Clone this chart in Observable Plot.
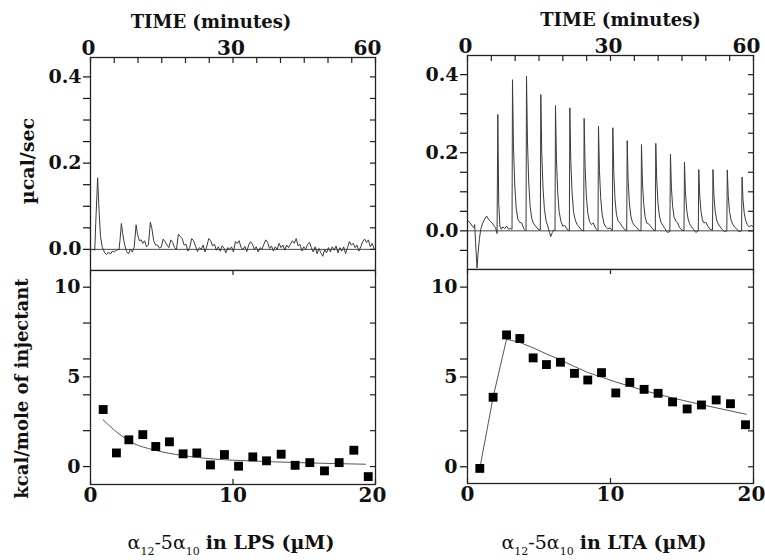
<!DOCTYPE html>
<html><head><meta charset="utf-8">
<script src="https://cdn.jsdelivr.net/npm/d3@7"></script>
<script src="https://cdn.jsdelivr.net/npm/@observablehq/plot@0.6"></script>
<style>
body{margin:0;background:#fff;}
#chart{position:relative;width:765px;height:560px;background:#fff;overflow:hidden;}
#chart svg{position:absolute;}
.xl{position:absolute;font-family:'DejaVu Serif';font-size:19px;line-height:22px;white-space:nowrap;transform:translateX(-50%);color:#111;}
.xl b{font-weight:bold;}
.xl sub{font-size:11px;vertical-align:-6px;line-height:0;}
</style></head><body><div id="chart"></div>
<script>
// ---- tick values / labels ----
const timeTicks = [0, 30, 60];
const timeMinor = [0,5,10,15,20,25,30,35,40,45,50,55,60];
const powerTicks = [0, 0.2, 0.4];
const powerMinorL = [0,0.05,0.1,0.15,0.2,0.25,0.3,0.35,0.4];
const powerMinorR = [-0.05,0,0.05,0.1,0.15,0.2,0.25,0.3,0.35,0.4];
const heatTicks = [0, 5, 10];
const heatMinor = [0, 2, 4, 5, 6, 8, 10];
const concTicks = [0, 10, 20];
const titleTop = "TIME (minutes)";
const yLabelTop = "µcal/sec";
const yLabelBottom = "kcal/mole of injectant";

// ---- raw ITC trace, LPS (time min, µcal/sec) ----
const lpsTrace = [[0,-0.002],[0.5,0],[0.9,-0.002],[1.1,0.06],[1.5,0.166],[1.8,0.09],[2.1,0.03],[2.5,0.004],[3.0,-0.008],[3.4,-0.012],[3.8,-0.006],[4.2,-0.011],[4.6,-0.004],[5.0,-0.006],[5.5,-0.002],[6.0,0],[6.2,0.02],[6.5,0.06],[6.8,0.035],[7.2,0.01],[7.6,-0.005],[8.0,-0.01],[8.4,0],[8.8,-0.006],[9.2,0.005],[9.6,0.057],[9.9,0.035],[10.3,0.02],[10.7,0.022],[11.0,0.014],[11.4,0.02],[11.8,0.006],[12.2,0.01],[12.6,0.063],[12.9,0.05],[13.3,0.02],[13.7,0.01],[14.1,0.01],[14.5,0.003],[14.9,0.005],[15.3,0.024],[15.7,0.018],[16.1,0.01],[16.5,0.004],[16.9,0.022],[17.3,0.016],[17.7,0.004],[18.1,0],[18.5,0.035],[18.9,0.03],[19.3,0.025],[19.7,0.01],[20.1,0.012],[20.5,-0.004],[20.9,0.005],[21.3,0.025],[21.7,0.02],[22.1,0.008],[22.5,-0.005],[22.9,0.004],[23.3,0],[23.7,0.01],[24.1,-0.006],[24.5,0.008],[24.9,0.025],[25.3,0.02],[25.7,0.008],[26.1,0.012],[26.5,-0.002],[26.9,0.006],[27.3,-0.004],[27.7,0.008],[28.1,0.003],[28.5,-0.008],[28.9,0.004],[29.3,0],[29.7,0.006],[30.1,-0.006],[30.5,0.018],[30.9,0.014],[31.3,0.02],[31.7,0.004],[32.1,0],[32.5,0.007],[32.9,-0.005],[33.3,0.01],[33.7,0.018],[34.1,0.012],[34.5,0],[34.9,0.006],[35.3,-0.006],[35.7,0.004],[36.1,0],[36.5,0.012],[36.9,0.022],[37.3,0.016],[37.7,0.002],[38.1,0.008],[38.5,-0.004],[38.9,0.006],[39.3,0],[39.7,0.014],[40.1,0.004],[40.5,0.01],[40.9,-0.002],[41.3,0.01],[41.7,0.004],[42.1,0.012],[42.5,0.02],[42.9,0.014],[43.3,0.025],[43.7,0.008],[44.1,0.012],[44.5,-0.004],[44.9,0.006],[45.3,0],[45.7,0.012],[46.1,0.016],[46.5,0.004],[46.9,-0.006],[47.3,0.006],[47.7,-0.01],[48.1,0.002],[48.5,-0.008],[48.9,-0.016],[49.3,0],[49.7,-0.008],[50.1,0.004],[50.5,-0.006],[50.9,0.006],[51.3,-0.002],[51.7,0.008],[52.1,-0.008],[52.5,0.004],[52.9,-0.004],[53.3,0.006],[53.7,-0.01],[54.1,0.004],[54.5,0.018],[54.9,0.01],[55.3,0.014],[55.7,0.004],[56.1,0.01],[56.5,-0.004],[56.9,0.006],[57.3,0.018],[57.7,0.024],[58.1,0.016],[58.5,0.022],[58.9,0.006],[59.3,0.014],[59.7,0.002],[60,-0.002]];

// ---- raw ITC trace, LTA ----
const ltaTrace = [[0,0.027],[0.5,0.021],[1.0,0.012],[1.3,0.008],[1.5,0.016],[1.7,-0.03],[2.0,-0.095],[2.2,-0.06],[2.5,-0.02],[2.8,0.005],[3.2,0.02],[3.6,0.03],[4.0,0.038],[4.4,0.03],[4.8,0.024],[5.2,0.02],[5.6,0.012],[5.9,0.008],[6.2,-0.007],
[6.36,0.298],[6.55,0.07],[6.8,0.012],[7.1,0.004],[7.4,0.01],[7.8,0.006],[8.2,0.012],[8.6,0.004],[9.0,0.006],[9.34,0.004],
[9.44,0.387],[9.64,0.22],[9.9,0.12],[10.2,0.06],[10.55,0.03],[10.95,0.022],[11.35,0.02],[11.8,0.006],[12.28,0],
[12.38,0.396],[12.58,0.23],[12.84,0.125],[13.14,0.062],[13.5,0.03],[13.9,0.018],[14.3,0.012],[14.8,0.004],[15.28,0.002],
[15.38,0.349],[15.58,0.2],[15.84,0.11],[16.14,0.055],[16.5,0.025],[16.9,0.01],[17.2,-0.004],[17.45,-0.015],[17.8,-0.004],[18.1,0.002],[18.36,0],
[18.46,0.321],[18.66,0.185],[18.92,0.1],[19.22,0.05],[19.58,0.025],[19.98,0.012],[20.4,0.014],[20.9,0.004],[21.37,0],
[21.47,0.315],[21.67,0.18],[21.93,0.1],[22.23,0.05],[22.6,0.028],[23.0,0.016],[23.4,0.01],[23.9,0.002],[24.37,0],
[24.47,0.288],[24.67,0.165],[24.93,0.09],[25.23,0.046],[25.6,0.024],[26.0,0.016],[26.4,0.02],[26.9,0.006],[27.38,0],
[27.48,0.268],[27.68,0.155],[27.94,0.085],[28.24,0.043],[28.6,0.02],[29.0,0.01],[29.4,0.005],[29.9,0.008],[30.39,0],
[30.49,0.264],[30.69,0.15],[30.95,0.08],[31.25,0.042],[31.6,0.025],[32.0,0.02],[32.4,0.012],[32.9,0.004],[33.4,0],
[33.5,0.231],[33.7,0.13],[33.96,0.072],[34.26,0.038],[34.6,0.022],[35.0,0.014],[35.4,0.01],[35.9,0.002],[36.4,0],
[36.5,0.221],[36.7,0.125],[36.96,0.07],[37.26,0.036],[37.6,0.02],[38.0,0.018],[38.4,0.012],[38.9,0.004],[39.4,0],
[39.5,0.224],[39.7,0.13],[39.96,0.07],[40.26,0.038],[40.6,0.022],[41.0,0.014],[41.4,0.006],[41.9,-0.004],[42.45,-0.002],
[42.58,0.196],[42.78,0.11],[43.04,0.062],[43.34,0.035],[43.7,0.025],[44.1,0.02],[44.5,0.008],[45.0,0.002],[45.42,0],
[45.52,0.176],[45.72,0.1],[45.98,0.055],[46.28,0.03],[46.6,0.018],[47.0,0.01],[47.4,0.004],[47.9,-0.004],[48.42,0],
[48.52,0.157],[48.72,0.09],[48.98,0.05],[49.28,0.028],[49.6,0.02],[50.0,0.022],[50.4,0.012],[50.9,0.004],[51.4,0.002],
[51.5,0.157],[51.7,0.09],[51.96,0.05],[52.26,0.028],[52.6,0.018],[53.0,0.01],[53.4,0.004],[53.9,-0.002],[54.4,0],
[54.5,0.156],[54.7,0.09],[54.96,0.05],[55.26,0.03],[55.6,0.018],[56.0,0.01],[56.4,0.006],[56.9,-0.002],[57.5,0],
[57.6,0.138],[57.8,0.08],[58.06,0.045],[58.36,0.026],[58.7,0.016],[59.1,0.01],[59.5,0.014],[60,0.01]];

// ---- integrated heats (µM, kcal/mol) ----
const lpsConc = [0.89,1.82,2.69,3.67,4.58,5.54,6.5,7.46,8.42,9.4,10.39,11.39,12.35,13.38,14.36,15.39,16.42,17.45,18.48,19.49];
const lpsHeat = [3.18,0.76,1.49,1.78,1.12,1.38,0.71,0.76,0.09,0.67,0.02,0.54,0.32,0.69,0.07,0.22,-0.24,0.22,0.91,-0.56];
const lpsFitConc = [0.89,1.86,3.0,4.44,6.5,8.8,11.1,14.6,19.3];
const lpsFitHeat = [2.6,1.91,1.3,0.93,0.61,0.41,0.32,0.22,0.13];

const ltaConc = [0.86,1.79,2.73,3.66,4.59,5.52,6.5,7.48,8.41,9.37,10.37,11.35,12.35,13.33,14.34,15.36,16.36,17.39,18.39,19.44];
const ltaHeat = [-0.09,3.87,7.34,7.14,6.06,5.69,5.82,5.2,4.83,5.24,4.11,4.7,4.31,4.09,3.61,3.22,3.44,3.72,3.51,2.34];
const ltaFitConc = [0.86,1.79,2.73,3.66,4.59,5.52,6.5,7.48,8.41,10.37,12.35,14.34,16.36,19.5];
const ltaFitHeat = [-0.09,3.87,7.1,6.92,6.62,6.28,5.95,5.58,5.25,4.72,4.24,3.83,3.46,2.92];

const chart = document.getElementById("chart");
const INK = "#222";
const fmt1 = d3.format(".1f");
const isIn = (arr) => (d) => arr.some(v => Math.abs(v - d) < 1e-9);
const baseStyle = {fontFamily: "DejaVu Serif", fontSize: "19px", fontWeight: "bold", background: "transparent", color: "#111"};

function place(svg, left, top) {
  svg.style.left = left + "px";
  svg.style.top = top + "px";
  chart.append(svg);
}

function topPanel({left, width, mL, mR, mT, mB, yDomain, minor, trace, titleDx, lastDx, showYLabel}) {
  const H = 270;
  const pw = width - mL - mR, ph = H - mT - mB;
  const svg = Plot.plot({
    width, height: H, marginLeft: mL, marginRight: mR, marginTop: mT, marginBottom: mB,
    x: {domain: [0, 60]}, y: {domain: yDomain},
    style: baseStyle,
    marks: [
      Plot.ruleY([0], {stroke: "#333", strokeWidth: 0.9}),
      Plot.line(trace, {x: d => d[0], y: d => d[1], stroke: "#3a3a3a", strokeWidth: 1}),
      Plot.frame({stroke: INK, strokeWidth: 1.3}),
      Plot.tickX(timeMinor, {x: d => d, insetBottom: ph - 6, stroke: INK, strokeWidth: 1.2}),
      Plot.tickY(minor, {y: d => d, insetLeft: pw - 5, stroke: INK, strokeWidth: 1.2}),
      Plot.axisX(timeTicks, {anchor: "top", tickSize: 0, tickFormat: () => "", label: null}),
      Plot.text(timeTicks.slice(0, -1), {x: d => d, frameAnchor: "top", dy: -17, dx: -2, fontSize: 20}),
      Plot.text(timeTicks.slice(-1), {x: d => d, frameAnchor: "top", dy: -17, dx: lastDx, fontSize: 20}),
      Plot.axisY(minor, {anchor: "left", tickSize: 7, tickPadding: 2, strokeWidth: 1.2,
        tickFormat: d => isIn(powerTicks)(d) ? fmt1(d) : "", label: null}),
      Plot.text([titleTop], {frameAnchor: "top", dx: titleDx, dy: -42, fontSize: 18}),
      ...(showYLabel ? [Plot.text([yLabelTop], {frameAnchor: "left", textAnchor: "middle", rotate: -90, dx: -63, dy: -3, fontSize: 19})] : [])
    ]
  });
  place(svg, left, 0);
}

function bottomPanel({left, top, width, mL, mR, mT, mB, yDomain, conc, heat, fitConc, fitHeat, curve, lastDx, showYLabel}) {
  const H = 270;
  const pw = width - mL - mR, ph = H - mT - mB;
  const pts = conc.map((c, i) => ({c, h: heat[i]}));
  const fit = fitConc.map((c, i) => ({c, h: fitHeat[i]}));
  const svg = Plot.plot({
    width, height: H, marginLeft: mL, marginRight: mR, marginTop: mT, marginBottom: mB,
    x: {domain: [0, 20]}, y: {domain: yDomain},
    style: baseStyle,
    marks: [
      Plot.line(fit, {x: "c", y: "h", stroke: "#555", strokeWidth: 1, curve}),
      Plot.dot(pts, {x: "c", y: "h", symbol: "square", r: 5, fill: "#000", stroke: null}),
      Plot.frame({stroke: INK, strokeWidth: 1.3}),
      Plot.tickX(concTicks, {x: d => d, insetBottom: ph - 5, stroke: INK, strokeWidth: 1.2}),
      Plot.tickX(concTicks, {x: d => d, insetTop: ph - 5, stroke: INK, strokeWidth: 1.2}),
      Plot.tickY(heatMinor, {y: d => d, insetLeft: pw - 5, stroke: INK, strokeWidth: 1.2}),
      Plot.axisX(concTicks, {anchor: "bottom", tickSize: 0, tickFormat: () => "", label: null}),
      Plot.text(concTicks.slice(0, -1), {x: d => d, frameAnchor: "bottom", dy: 17, fontSize: 20}),
      Plot.text(concTicks.slice(-1), {x: d => d, frameAnchor: "bottom", dy: 17, dx: lastDx, fontSize: 20}),
      Plot.axisY(heatMinor, {anchor: "left", tickSize: 7, tickPadding: 3, strokeWidth: 1.2,
        tickFormat: d => isIn(heatTicks)(d) ? String(d) : "", label: null}),
      ...(showYLabel ? [Plot.text([yLabelBottom], {frameAnchor: "left", textAnchor: "middle", rotate: -90, dx: -68, dy: 11, fontSize: 18})] : [])
    ]
  });
  place(svg, left, top);
}

topPanel({left: 0, width: 390, mL: 90, mR: 15, mT: 57, mB: 0, yDomain: [-0.049, 0.445], minor: powerMinorL, trace: lpsTrace, titleDx: -22, lastDx: -8, showYLabel: true});
topPanel({left: 385, width: 380, mL: 82, mR: 12, mT: 55, mB: 1, yDomain: [-0.099, 0.449], minor: powerMinorR, trace: ltaTrace, titleDx: 10, lastDx: -7, showYLabel: false});
bottomPanel({left: 0, top: 260, width: 390, mL: 90, mR: 15, mT: 10, mB: 46, yDomain: [-1.0, 10.93], conc: lpsConc, heat: lpsHeat, fitConc: lpsFitConc, fitHeat: lpsFitHeat, curve: "monotone-x", lastDx: -3, showYLabel: true});
bottomPanel({left: 385, top: 260, width: 380, mL: 82, mR: 12, mT: 9, mB: 47, yDomain: [-0.93, 10.98], conc: ltaConc, heat: ltaHeat, fitConc: ltaFitConc, fitHeat: ltaFitHeat, curve: "linear", lastDx: -2, showYLabel: false});

// x-axis titles with subscripts (real text)
const xTitles = [{x: 231, host: "LPS"}, {x: 604, host: "LTA"}];
for (const t of xTitles) {
  const div = document.createElement("div");
  div.className = "xl";
  div.style.left = t.x + "px";
  div.style.top = "531px";
  div.innerHTML = `α<sub>12</sub>-5α<sub>10</sub> <b>in ${t.host} (µM)</b>`;
  chart.append(div);
}
</script></body></html>
